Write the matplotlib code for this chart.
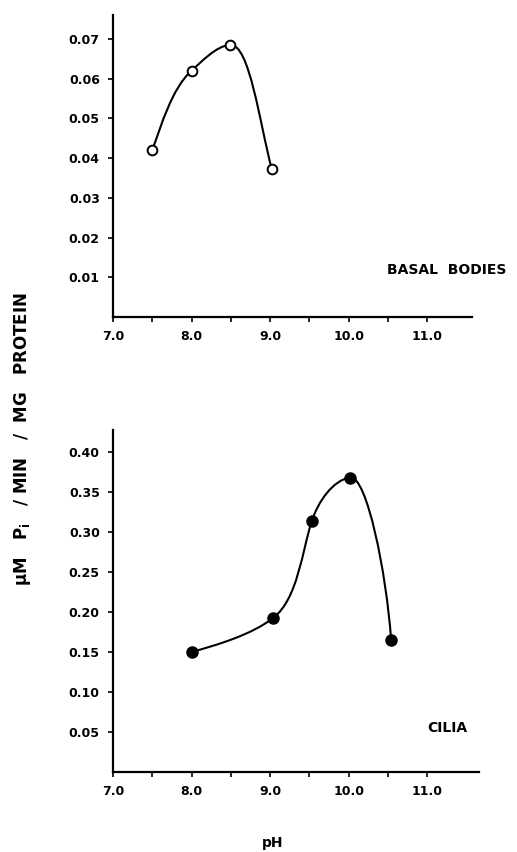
import numpy as np
import matplotlib
matplotlib.use("Agg")
import matplotlib.pyplot as plt
from matplotlib.path import Path
from matplotlib.patches import PathPatch

# ---- data ----
basal_ph = [7.5, 8.0, 8.49, 9.02]
basal_rate = [0.042, 0.062, 0.0685, 0.0373]

cilia_ph = [8.0, 9.04, 9.53, 10.02, 10.54]
cilia_rate = [0.1495, 0.192, 0.313, 0.3675, 0.165]

x_ticks = [7.0, 7.5, 8.0, 8.5, 9.0, 9.5, 10.0, 10.5, 11.0]
x_labels = ["7.0", "", "8.0", "", "9.0", "", "10.0", "", "11.0"]
basal_yticks = [0.01, 0.02, 0.03, 0.04, 0.05, 0.06, 0.07]
basal_ylabels = ["0.01", "0.02", "0.03", "0.04", "0.05", "0.06", "0.07"]
cilia_yticks = [0.05, 0.10, 0.15, 0.20, 0.25, 0.30, 0.35, 0.40]
cilia_ylabels = ["0.05", "0.10", "0.15", "0.20", "0.25", "0.30", "0.35", "0.40"]

# ---- style: tangent angles (deg, display space) and in/out tension per point ----
basal_tan = [70, 42, 5, -75]
basal_kin = [0.3, 0.3, 0.3, 0.35]
basal_kout = [0.3, 0.3, 0.15, 0.3]
cilia_tan = [15, 38, 72, 8, -86]
cilia_kin = [0.3, 0.3, 0.3, 0.3, 0.4]
cilia_kout = [0.3, 0.3, 0.35, 0.1, 0.3]

plt.rcParams['font.family'] = ['DejaVu Sans']
plt.rcParams['font.weight'] = 'bold'

fig = plt.figure(figsize=(5.17, 8.52), dpi=100)
ax1 = fig.add_axes([0.2186, 0.6279, 0.6944, 0.3545])
ax2 = fig.add_axes([0.2186, 0.0944, 0.7080, 0.4010])


def style(ax, xlim, ylim, yt, yl):
    ax.set_xlim(*xlim)
    ax.set_ylim(*ylim)
    for s in ["top", "right"]:
        ax.spines[s].set_visible(False)
    for s in ["left", "bottom"]:
        ax.spines[s].set_linewidth(1.6)
        ax.spines[s].set_color("black")
    ax.set_xticks(x_ticks)
    ax.set_xticklabels(x_labels)
    ax.set_yticks(yt)
    ax.set_yticklabels(yl)
    ax.tick_params(axis="both", direction="out", length=3.5, width=1.2,
                   labelsize=9, pad=6)
    for t in ax.get_xticklabels() + ax.get_yticklabels():
        t.set_fontweight("bold")


def smooth(ax, xs, ys, angles, kin, kout):
    pts = ax.transData.transform(np.column_stack([xs, ys]))
    verts = [pts[0]]
    codes = [Path.MOVETO]
    for i in range(len(pts) - 1):
        a, b = pts[i], pts[i + 1]
        L = np.hypot(*(b - a))
        ua = np.array([np.cos(np.radians(angles[i])), np.sin(np.radians(angles[i]))])
        ub = np.array([np.cos(np.radians(angles[i + 1])), np.sin(np.radians(angles[i + 1]))])
        c1 = a + ua * kout[i] * L
        c2 = b - ub * kin[i + 1] * L
        verts += [c1, c2, b]
        codes += [Path.CURVE4] * 3
    verts = ax.transData.inverted().transform(np.array(verts))
    patch = PathPatch(Path(verts, codes), facecolor="none", edgecolor="black",
                      lw=1.5, zorder=2)
    ax.add_patch(patch)


style(ax1, (7.0, 11.57), (0, 0.076), basal_yticks, basal_ylabels)
style(ax2, (7.0, 11.66), (0, 0.427), cilia_yticks, cilia_ylabels)

smooth(ax1, basal_ph, basal_rate, basal_tan, basal_kin, basal_kout)
ax1.plot(basal_ph, basal_rate, linestyle="none", marker="o", markersize=7,
         markerfacecolor="white", markeredgecolor="black", markeredgewidth=1.4,
         zorder=3)

smooth(ax2, cilia_ph, cilia_rate, cilia_tan, cilia_kin, cilia_kout)
ax2.plot(cilia_ph, cilia_rate, linestyle="none", marker="o", markersize=8,
         markerfacecolor="black", markeredgecolor="black", zorder=3)

ax1.text(387 / 517, 1 - 270 / 852, "BASAL  BODIES", transform=fig.transFigure,
         fontsize=10, fontweight="bold", ha="left", va="center")
ax2.text(427 / 517, 1 - 728 / 852, "CILIA", transform=fig.transFigure,
         fontsize=10, fontweight="bold", ha="left", va="center")

fig.text(23 / 517, 1 - 439 / 852,
         r"μM   P$_{\mathbf{i}}$   / MIN   /  MG   PROTEIN",
         rotation=90, fontsize=12, fontweight="bold", ha="center", va="center")
fig.text(273 / 517, 1 - 843 / 852, "pH", fontsize=10, fontweight="bold",
         ha="center", va="center")

fig.savefig("out.png", dpi=100)
